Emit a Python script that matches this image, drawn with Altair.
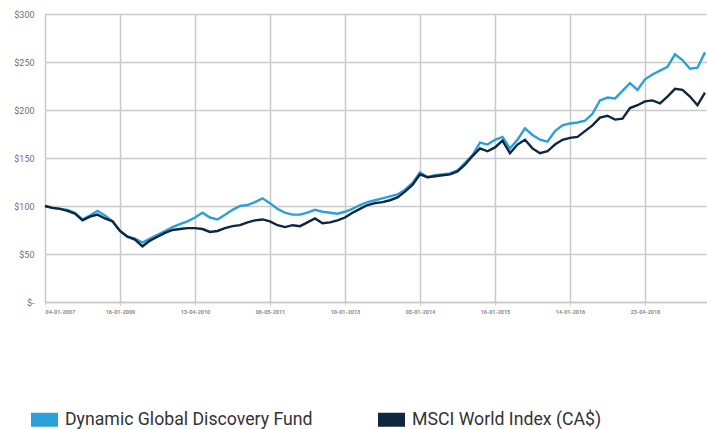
import altair as alt
import pandas as pd

# Growth of $100, sampled at regular periods
fund = [100, 98, 97, 96, 93, 86, 90, 95, 90, 84,
        74, 68, 66, 62, 66, 70, 74, 78, 81, 84,
        88, 93, 88, 86, 91, 96, 100, 101, 104, 108,
        103, 97, 93, 91, 91, 93, 96, 94, 93, 92,
        94, 97, 101, 104, 106, 108, 110, 112, 117, 124,
        135, 130, 132, 133, 134, 137, 145, 153, 166, 164,
        169, 172, 160, 169, 181, 174, 169, 167, 178, 184,
        186, 187, 189, 196, 210, 213, 212, 220, 228, 221,
        232, 237, 241, 245, 258, 252, 243, 244, 260]
index = [100, 98, 97, 95, 92, 85, 89, 91, 87, 84,
         74, 68, 65, 58, 64, 68, 72, 75, 76, 77,
         77, 76, 73, 74, 77, 79, 80, 83, 85, 86,
         84, 80, 78, 80, 79, 83, 87, 82, 83, 85,
         88, 93, 97, 101, 103, 104, 106, 109, 115, 122,
         133, 130, 131, 132, 133, 136, 143, 152, 160, 157,
         161, 168, 155, 164, 169, 160, 155, 157, 164, 169,
         171, 172, 178, 184, 192, 194, 190, 191, 202, 205,
         209, 210, 207, 214, 222, 221, 214, 205, 218]

series_names = ["Dynamic Global Discovery Fund", "MSCI World Index (CA$)"]
series_colors = ["#2ba0d8", "#0f2540"]

date_labels = ["04-01-2007", "16-01-2009", "13-04-2010", "06-05-2011",
               "10-01-2013", "03-01-2014", "16-01-2015", "14-01-2016",
               "23-04-2018"]
label_step = 10
y_ticks = [0, 50, 100, 150, 200, 250, 300]

rows = []
for name, vals in zip(series_names, [fund, index]):
    for i, v in enumerate(vals):
        rows.append({"period": i, "value": v, "series": name})
df = pd.DataFrame(rows)

label_array = "[" + ",".join(f"'{d}'" for d in date_labels) + "]"

x_enc = alt.X(
    "period:Q",
    scale=alt.Scale(domain=[0, 88.27], nice=False, zero=False),
    axis=alt.Axis(
        values=[i * label_step for i in range(len(date_labels))],
        labelExpr=f"{label_array}[round(datum.value / {label_step})]",
        title=None,
        grid=True,
        gridColor="#c9c9c9",
        gridWidth=1.5,
        domainColor="#c9c9c9",
        domainWidth=1.5,
        tickColor="#c9c9c9",
        tickSize=3,
        labelFont="Roboto",
        labelFontSize=5.5,
        labelFontWeight="bold",
        labelColor="#8a8a8a",
        labelPadding=4,
        labelAngle=0,
    ),
)
y_enc = alt.Y(
    "value:Q",
    scale=alt.Scale(domain=[0, 300], nice=False),
    axis=alt.Axis(
        values=y_ticks,
        labelExpr="datum.value == 0 ? '$-' : '$' + datum.value",
        title=None,
        grid=True,
        gridColor="#c9c9c9",
        gridWidth=1.5,
        domain=False,
        ticks=False,
        labelFont="Roboto",
        labelFontSize=9,
        labelColor="#6f6f6f",
        labelPadding=11,
    ),
)

# Legend swatches: a short horizontal stroke drawn thick enough to read as a block
color_enc = alt.Color(
    "series:N",
    scale=alt.Scale(domain=series_names, range=series_colors),
    legend=alt.Legend(
        title=None,
        orient="none",
        legendX=-21,
        legendY=385,
        direction="horizontal",
        columns=2,
        columnPadding=37,
        symbolType="M-1,0H1",
        symbolSize=729,
        symbolStrokeWidth=14,
        symbolOpacity=1,
        labelFont="Roboto",
        labelFontSize=17.7,
        labelColor="#333333",
        labelOffset=0,
        labelLimit=500,
    ),
)

base = alt.Chart(df).mark_line(strokeWidth=2.4, interpolate="linear").encode(
    x=x_enc, y=y_enc, color=color_enc
)
fund_layer = base.transform_filter(alt.datum.series == series_names[0])
index_layer = base.transform_filter(alt.datum.series == series_names[1])

chart = (
    alt.layer(fund_layer, index_layer)
    .properties(
        width=662,
        height=288,
        autosize=alt.AutoSizeParams(type="none"),
        padding={"left": 45, "top": 14, "right": 0, "bottom": 127},
        background="white",
    )
    .configure_view(stroke=None)
)

chart.save("out.html", embed_options={"renderer": "svg", "actions": False})
